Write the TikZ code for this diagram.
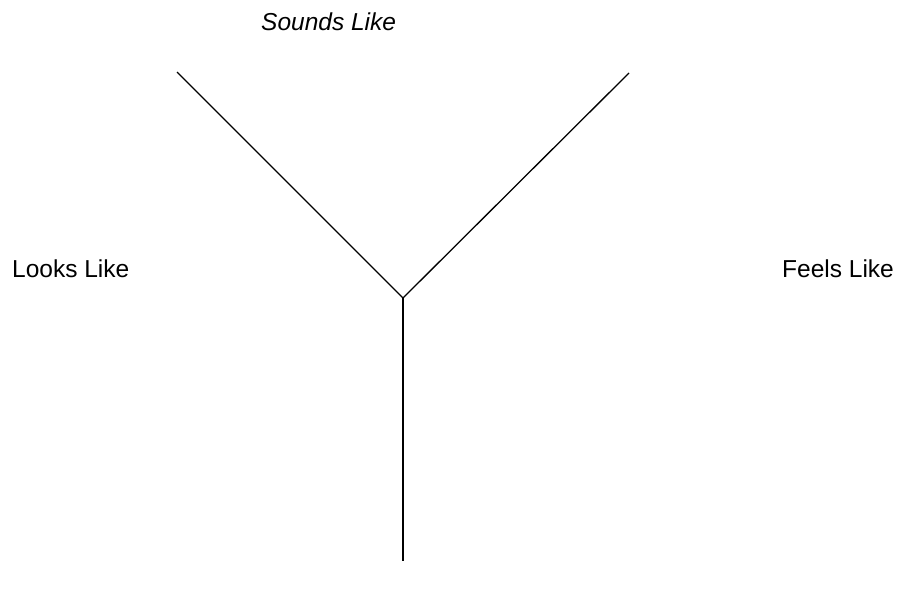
\documentclass[tikz,border=0pt]{standalone}
\usepackage{fontspec}
\setmainfont{Liberation Sans}
\begin{document}
\begin{tikzpicture}[x=1bp,y=-1bp,
  lbl/.style={inner sep=0pt,anchor=base west,font=\fontsize{24.5bp}{29bp}\selectfont},
  branch/.style={line width=1.3bp,black}]
\useasboundingbox (0,0) rectangle (899,589);
\coordinate (j) at (403,298);
\coordinate (tl) at (177,72);
\coordinate (tr) at (629,73);
\coordinate (b) at (403,561);
\draw[branch] (tl) -- (j) -- (tr);
\draw[branch] (j) -- (b);
\node[lbl,font=\fontsize{24.5bp}{29bp}\selectfont\itshape] (sounds) at (261,31) {Sounds Like};
\node[lbl] (looks) at (12,277) {Looks Like};
\node[lbl] (feels) at (782,277) {Feels Like};
\end{tikzpicture}
\end{document}
